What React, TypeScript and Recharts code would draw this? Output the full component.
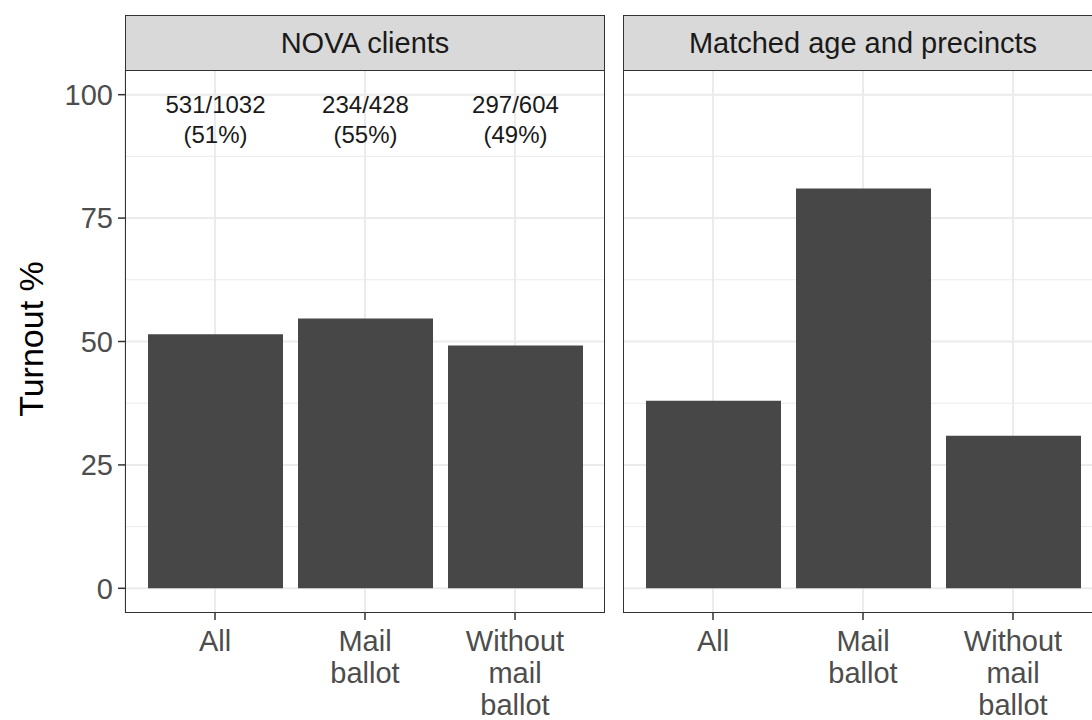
import React from 'react';
import { BarChart, Bar, XAxis, YAxis, CartesianGrid, LabelList } from 'recharts';

const categories = ['All', 'Mail\nballot', 'Without\nmail\nballot'];
const novaTurnout = [51.45, 54.67, 49.17];
const matchedTurnout = [38.0, 81.0, 30.9];
const novaCounts = ['531/1032\n(51%)', '234/428\n(55%)', '297/604\n(49%)'];
const panelTitles = ['NOVA clients', 'Matched age and precincts'];
const yTicks = [0, 25, 50, 75, 100];
const yMinor = [12.5, 37.5, 62.5, 87.5];
const labelLevel = 95;

const FONT = '"Liberation Sans", Arial, Helvetica, sans-serif';

const XTick = (props: any) => {
  const { x, y, payload } = props;
  const lines = String(payload.value).split('\n');
  return (
    <g transform={`translate(${x},${y})`}>
      <text textAnchor="middle" fill="#4D4D4D" fontSize={29} fontFamily={FONT}>
        {lines.map((l, i) => (
          <tspan key={i} x={0} y={29 + i * 32}>
            {l}
          </tspan>
        ))}
      </text>
    </g>
  );
};

const CountLabel = (props: any) => {
  const vb = props.viewBox ?? props;
  const { x, y, width, height } = vb;
  let idx = props.index;
  if (idx === undefined) idx = novaCounts.indexOf(props.value);
  const val = novaTurnout[idx];
  if (val === undefined || !height) return null;
  const bottom = y + height;
  const cy = bottom - (height / val) * labelLevel;
  const lines = String(props.value).split('\n');
  return (
    <text textAnchor="middle" fill="#1A1A1A" fontSize={24} fontFamily={FONT}>
      {lines.map((l, i) => (
        <tspan key={i} x={x + width / 2} y={cy - 15 + i * 30} dominantBaseline="central">
          {l}
        </tspan>
      ))}
    </text>
  );
};

type PanelProps = {
  left: number;
  values: number[];
  title: string;
  showY: boolean;
  counts?: string[];
};

const Panel = ({ left, values, title, showY, counts }: PanelProps) => {
  const data = categories.map((c, i) => ({
    category: c,
    turnout: values[i],
    count: counts ? counts[i] : '',
  }));
  const axisW = showY ? 125 : 0;
  const chartW = axisW + 480;
  return (
    <div style={{ position: 'absolute', left, top: 0, width: chartW, height: 720 }}>
      <BarChart
        width={chartW}
        height={720}
        data={data}
        margin={{ top: 70, right: 0, bottom: 0, left: 0 }}
      >
        <CartesianGrid
          horizontalValues={yMinor}
          vertical={false}
          stroke="#EBEBEB"
          strokeWidth={1}
        />
        <CartesianGrid horizontalValues={yTicks} stroke="#EBEBEB" strokeWidth={2} />
        <XAxis
          dataKey="category"
          interval={0}
          padding={{ left: 15, right: 15 }}
          height={107}
          axisLine={false}
          tickSize={7}
          tickMargin={2}
          tickLine={{ stroke: '#333333', strokeWidth: 1.5 }}
          tick={<XTick />}
        />
        <YAxis
          hide={!showY}
          width={axisW}
          type="number"
          domain={[-5, 105]}
          allowDataOverflow
          ticks={yTicks}
          axisLine={false}
          tickSize={7}
          tickMargin={5}
          tickLine={{ stroke: '#333333', strokeWidth: 1.5 }}
          tick={{ fill: '#4D4D4D', fontSize: 29, fontFamily: FONT }}
        />
        <Bar dataKey="turnout" fill="#474747" barSize={135} isAnimationActive={false}>
          {counts && <LabelList dataKey="count" content={<CountLabel />} />}
        </Bar>
      </BarChart>
      <div
        style={{
          position: 'absolute',
          left: axisW,
          top: 70,
          width: 480,
          height: 543,
          boxSizing: 'border-box',
          border: '1.5px solid #333333',
          pointerEvents: 'none',
        }}
      />
      <div
        style={{
          position: 'absolute',
          left: axisW,
          top: 15,
          width: 480,
          height: 56,
          boxSizing: 'border-box',
          border: '1.5px solid #333333',
          background: '#D9D9D9',
          color: '#1A1A1A',
          fontFamily: FONT,
          fontSize: 29,
          display: 'flex',
          alignItems: 'center',
          justifyContent: 'center',
          whiteSpace: 'nowrap',
        }}
      >
        {title}
      </div>
    </div>
  );
};

export default function App() {
  return (
    <div
      style={{
        position: 'absolute',
        left: 0,
        top: 0,
        width: 1092,
        height: 720,
        overflow: 'hidden',
        background: '#FFFFFF',
      }}
    >
      <div
        style={{
          position: 'absolute',
          left: 31,
          top: 339,
          transform: 'translate(-50%, -50%) rotate(-90deg)',
          fontFamily: FONT,
          fontSize: 34,
          color: '#000000',
          whiteSpace: 'nowrap',
        }}
      >
        Turnout %
      </div>
      <Panel left={0} values={novaTurnout} title={panelTitles[0]} showY counts={novaCounts} />
      <Panel left={623} values={matchedTurnout} title={panelTitles[1]} showY={false} />
    </div>
  );
}
